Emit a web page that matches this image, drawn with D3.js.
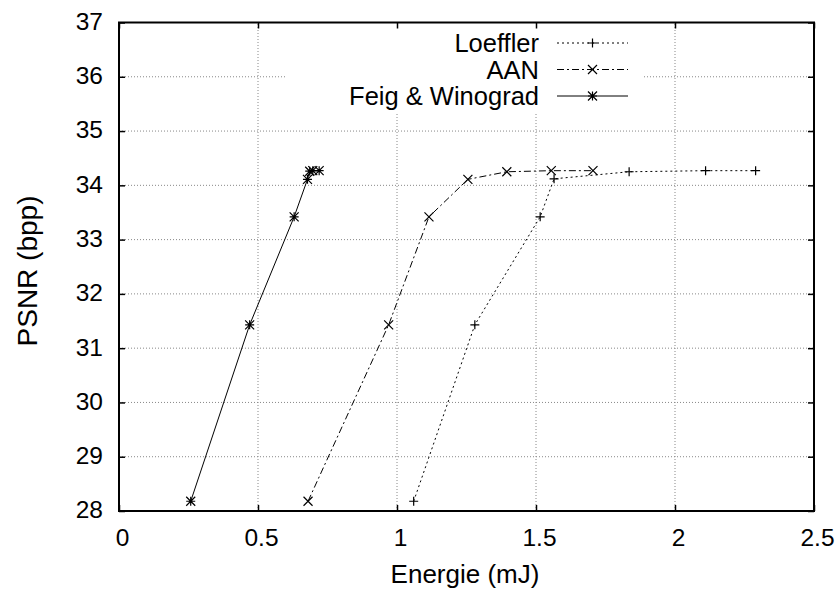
<!DOCTYPE html>
<html><head><meta charset="utf-8">
<script src="https://cdn.jsdelivr.net/npm/d3@7"></script>
<style>body{margin:0;background:#fff}</style>
</head><body>
<svg id="c" width="839" height="594"></svg>
<script>
const seriesNames = ["Loeffler", "AAN", "Feig & Winograd"];
const loefflerEnergy = [1.06, 1.28, 1.515, 1.565, 1.835, 2.11, 2.29];
const loefflerPsnr   = [28.18, 31.43, 33.42, 34.12, 34.25, 34.27, 34.27];
const aanEnergy = [0.68, 0.97, 1.115, 1.255, 1.395, 1.555, 1.705];
const aanPsnr   = [28.18, 31.43, 33.42, 34.11, 34.25, 34.27, 34.27];
const feigEnergy = [0.258, 0.47, 0.63, 0.678, 0.686, 0.697, 0.72];
const feigPsnr   = [28.18, 31.43, 33.42, 34.11, 34.26, 34.27, 34.27];
const xTicks = [0, 0.5, 1, 1.5, 2, 2.5];
const yTicks = [28, 29, 30, 31, 32, 33, 34, 35, 36, 37];

const svg = d3.select("#c");
const font = "Liberation Sans, Arial, sans-serif";
const L = 119, R = 814, T = 22.5, B = 511;
const x = d3.scaleLinear().domain([0, 2.5]).range([L, R]);
const y = d3.scaleLinear().domain([28, 37]).range([B, T]);

// grid
const grid = svg.append("g").attr("stroke", "#888").attr("stroke-width", 1).attr("stroke-dasharray", "1,2");
xTicks.slice(1, -1).forEach(t => grid.append("line").attr("x1", x(t)).attr("x2", x(t)).attr("y1", B).attr("y2", T));
yTicks.slice(1, -1).forEach(t => grid.append("line").attr("x1", L).attr("x2", R).attr("y1", y(t)).attr("y2", y(t)));

// legend background box
svg.append("rect").attr("x", 287).attr("y", T + 1).attr("width", 643 - 287).attr("height", 113 - T).attr("fill", "#fff");

// axes with inward ticks
const axB = d3.axisBottom(x).tickValues(xTicks).tickSize(-6).tickPadding(18).tickFormat(d3.format("~g"));
const axT = d3.axisTop(x).tickValues(xTicks).tickSize(-6).tickFormat("");
const axL = d3.axisLeft(y).tickValues(yTicks).tickSize(-6).tickPadding(16).tickFormat(d3.format("~g"));
const axR = d3.axisRight(y).tickValues(yTicks).tickSize(-6).tickFormat("");
function style(g){ g.select(".domain").remove(); g.selectAll("line").attr("stroke","#000").attr("stroke-width",1.5);
  g.selectAll("text").attr("font-family", font).attr("font-size", 24.5).attr("fill","#000"); }
svg.append("g").attr("transform", `translate(0,${B})`).call(axB).call(style)
  .selectAll("text").attr("dx", 3);
svg.append("g").attr("transform", `translate(0,${T})`).call(axT).call(style);
svg.append("g").attr("transform", `translate(${L},0)`).call(axL).call(style)
  .selectAll("text").attr("dy", "0.28em");
svg.append("g").attr("transform", `translate(${R},0)`).call(axR).call(style);
svg.append("rect").attr("x", L).attr("y", T).attr("width", R - L).attr("height", B - T)
  .attr("fill", "none").attr("stroke", "#000").attr("stroke-width", 2);

// axis titles
svg.append("text").attr("x", 465).attr("y", 583).attr("text-anchor", "middle")
  .attr("font-family", font).attr("font-size", 26).text("Energie (mJ)");
svg.append("text").attr("transform", `translate(37,271) rotate(-90)`).attr("text-anchor", "middle")
  .attr("font-family", font).attr("font-size", 28).text("PSNR (bpp)");

const series = [
  {name: seriesNames[0], xs: loefflerEnergy, ys: loefflerPsnr, dash: "2,3", marker: "plus"},
  {name: seriesNames[1], xs: aanEnergy, ys: aanPsnr, dash: "7,3,2,3", marker: "cross"},
  {name: seriesNames[2], xs: feigEnergy, ys: feigPsnr, dash: null, marker: "star"}
];
const line = d3.line().x(d => x(d[0])).y(d => y(d[1]));
function marker(g, cx, cy, type) {
  const s = 4.5;
  const p = g.append("path").attr("stroke", "#000").attr("stroke-width", 1.2).attr("fill", "none");
  let d = "";
  if (type === "plus" || type === "star") d += `M${cx - s},${cy}H${cx + s}M${cx},${cy - s}V${cy + s}`;
  if (type === "cross" || type === "star") d += `M${cx - s},${cy - s}L${cx + s},${cy + s}M${cx - s},${cy + s}L${cx + s},${cy - s}`;
  p.attr("d", d);
}
series.forEach((s, i) => {
  const pts = s.xs.map((v, j) => [v, s.ys[j]]);
  const g = svg.append("g");
  g.append("path").attr("d", line(pts)).attr("fill", "none").attr("stroke", "#000").attr("stroke-width", 1)
    .attr("stroke-dasharray", s.dash);
  pts.forEach(p => marker(g, x(p[0]), y(p[1]), s.marker));
  // legend
  const ly = 43 + i * 26.5;
  svg.append("text").attr("x", 539).attr("y", ly + 9).attr("text-anchor", "end")
    .attr("font-family", font).attr("font-size", 25.5).text(s.name);
  svg.append("line").attr("x1", 557).attr("x2", 628).attr("y1", ly).attr("y2", ly)
    .attr("stroke", "#000").attr("stroke-width", 1).attr("stroke-dasharray", s.dash);
  marker(svg, 592.5, ly, s.marker);
});
</script>
</body></html>
